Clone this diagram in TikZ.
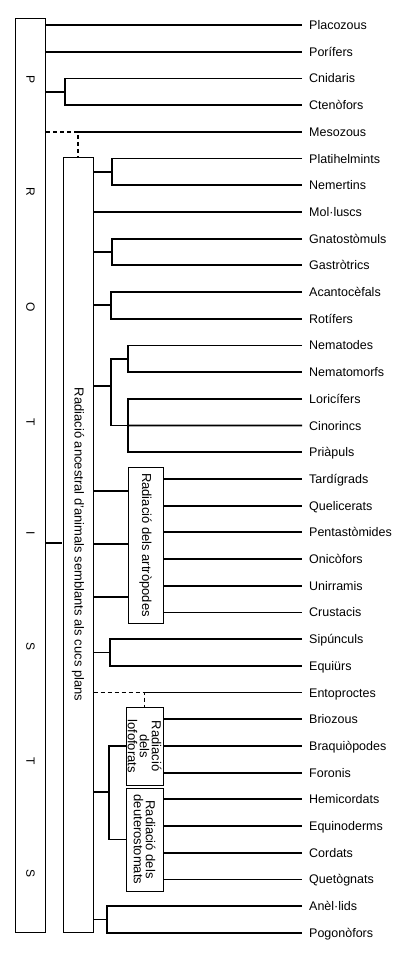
\documentclass[tikz,border=0pt]{standalone}
\usepackage{fontspec}
\setmainfont{Liberation Sans}
\begin{document}
\begin{tikzpicture}[x=1pt,y=-1pt,
  tree/.style={line width=1.8pt},
  dashtree/.style={line width=1.8pt, dash pattern=on 4pt off 3pt},
  boxst/.style={draw, line width=1pt, inner sep=0pt},
  leaf/.style={anchor=base west, inner sep=0pt, font=\fontsize{12.5}{14}\selectfont},
  vtext/.style={rotate=-90, inner sep=0pt, align=center, font=\fontsize{13}{12}\selectfont},
  letter/.style={rotate=-90, inner sep=0pt, font=\fontsize{12}{13}\selectfont}]
\useasboundingbox (0,0) rectangle (397,969);
% boxes
\node[boxst, minimum width=30pt, minimum height=914pt] (protists) at (30.5,475) {};
\node[boxst, minimum width=30pt, minimum height=775pt] (box2) at (78,544.5) {};
\node[boxst, minimum width=35pt, minimum height=156pt] (artro) at (145.5,545) {};
\node[boxst, minimum width=37pt, minimum height=78pt] (lofo) at (144.5,746) {};
\node[boxst, minimum width=37pt, minimum height=103pt] (deut) at (144.5,839.5) {};
% letters
\foreach \l/\yy [count=\k] in {P/80, R/192, O/307, T/422, I/533, S/646, T/761, S/873}
  \node[letter] (p\k) at (30.5,\yy) {\l};
% box texts
\node[vtext] (t2) at (box2.center) {Radiació ancestral d’animals semblants als cucs plans};
\node[vtext] (t3) at (artro.center) {Radiació dels artròpodes};
\node[vtext] (t4) at (lofo.center) {Radiació\\dels\\lofoforats};
\node[vtext] (t5) at (deut.center) {Radiació dels\\deuterostomats};
% leaves
\foreach \n [count=\i from 0] in {Placozous, Porífers, Cnidaris, Ctenòfors, Mesozous,
  Platihelmints, Nemertins, Mol·luscs, Gnatostòmuls, Gastròtrics, Acantocèfals, Rotífers,
  Nematodes, Nematomorfs, Loricífers, Cinorincs, Priàpuls, Tardígrads, Quelicerats,
  Pentastòmides, Onicòfors, Unirramis, Crustacis, Sipúnculs, Equiürs, Entoproctes,
  Briozous, Braquiòpodes, Foronis, Hemicordats, Equinoderms, Cordats, Quetògnats,
  Anèl·lids, Pogonòfors} {
  \pgfmathsetmacro\yy{25+26.7*\i}
  \coordinate (E\i) at (302,\yy);
  \node[leaf] (L\i) at (309,\yy+4.5) {\n};
}
% branch points
\coordinate (cn) at (65,91.75);
\coordinate (pl) at (112,171.85);
\coordinate (gn) at (112,251.95);
\coordinate (ac) at (111,305.35);
\coordinate (nA) at (111,386);
\coordinate (n1) at (128,358.75);
\coordinate (n2) at (128,425.5);
\coordinate (si) at (110,652.45);
\coordinate (ld) at (109,792);
\coordinate (an) at (107,919.45);
\coordinate (a1) at (128,491);
\coordinate (a2) at (128,544);
\coordinate (a3) at (128,597);
\coordinate (pb) at (62,543);
% connectors
\draw[tree] (protists.east |- E0) -- (E0);
\draw[tree] (protists.east |- E1) -- (E1);
\draw[tree] (protists.east |- cn) -- (cn);
\draw[tree] (E2) -| (cn) |- (E3);
\draw[dashtree] (protists.east |- E4) -- (box2.north |- E4) -- (box2.north);
\draw[tree] (box2.north |- E4) -- (E4);
\draw[tree] (box2.east |- pl) -- (pl);
\draw[tree] (E5) -| (pl) |- (E6);
\draw[tree] (box2.east |- E7) -- (E7);
\draw[tree] (box2.east |- gn) -- (gn);
\draw[tree] (E8) -| (gn) |- (E9);
\draw[tree] (box2.east |- ac) -- (ac);
\draw[tree] (E10) -| (ac) |- (E11);
\draw[tree] (box2.east |- nA) -- (nA);
\draw[tree] (n1) -| (nA) |- (n2);
\draw[tree] (E12) -| (n1) |- (E13);
\draw[tree] (E14) -| (n2) |- (E16);
\draw[tree] (n2) -- (E15);
\foreach \i in {17,...,22} \draw[tree] (artro.east |- E\i) -- (E\i);
\foreach \c in {a1,a2,a3} \draw[tree] (box2.east |- \c) -- (\c);
\draw[tree] (protists.east |- pb) -- (pb);
\draw[tree] (box2.east |- si) -- (si);
\draw[tree] (E23) -| (si) |- (E24);
\draw[dashtree] (box2.east |- E25) -- (lofo.north |- E25) -- (lofo.north);
\draw[tree] (lofo.north |- E25) -- (E25);
\foreach \i in {26,27,28} \draw[tree] (lofo.east |- E\i) -- (E\i);
\foreach \i in {29,...,32} \draw[tree] (deut.east |- E\i) -- (E\i);
\draw[tree] (box2.east |- ld) -- (ld);
\draw[tree] (lofo.west) -| (ld) |- (deut.west);
\draw[tree] (box2.east |- an) -- (an);
\draw[tree] (E33) -| (an) |- (E34);
\end{tikzpicture}
\end{document}
